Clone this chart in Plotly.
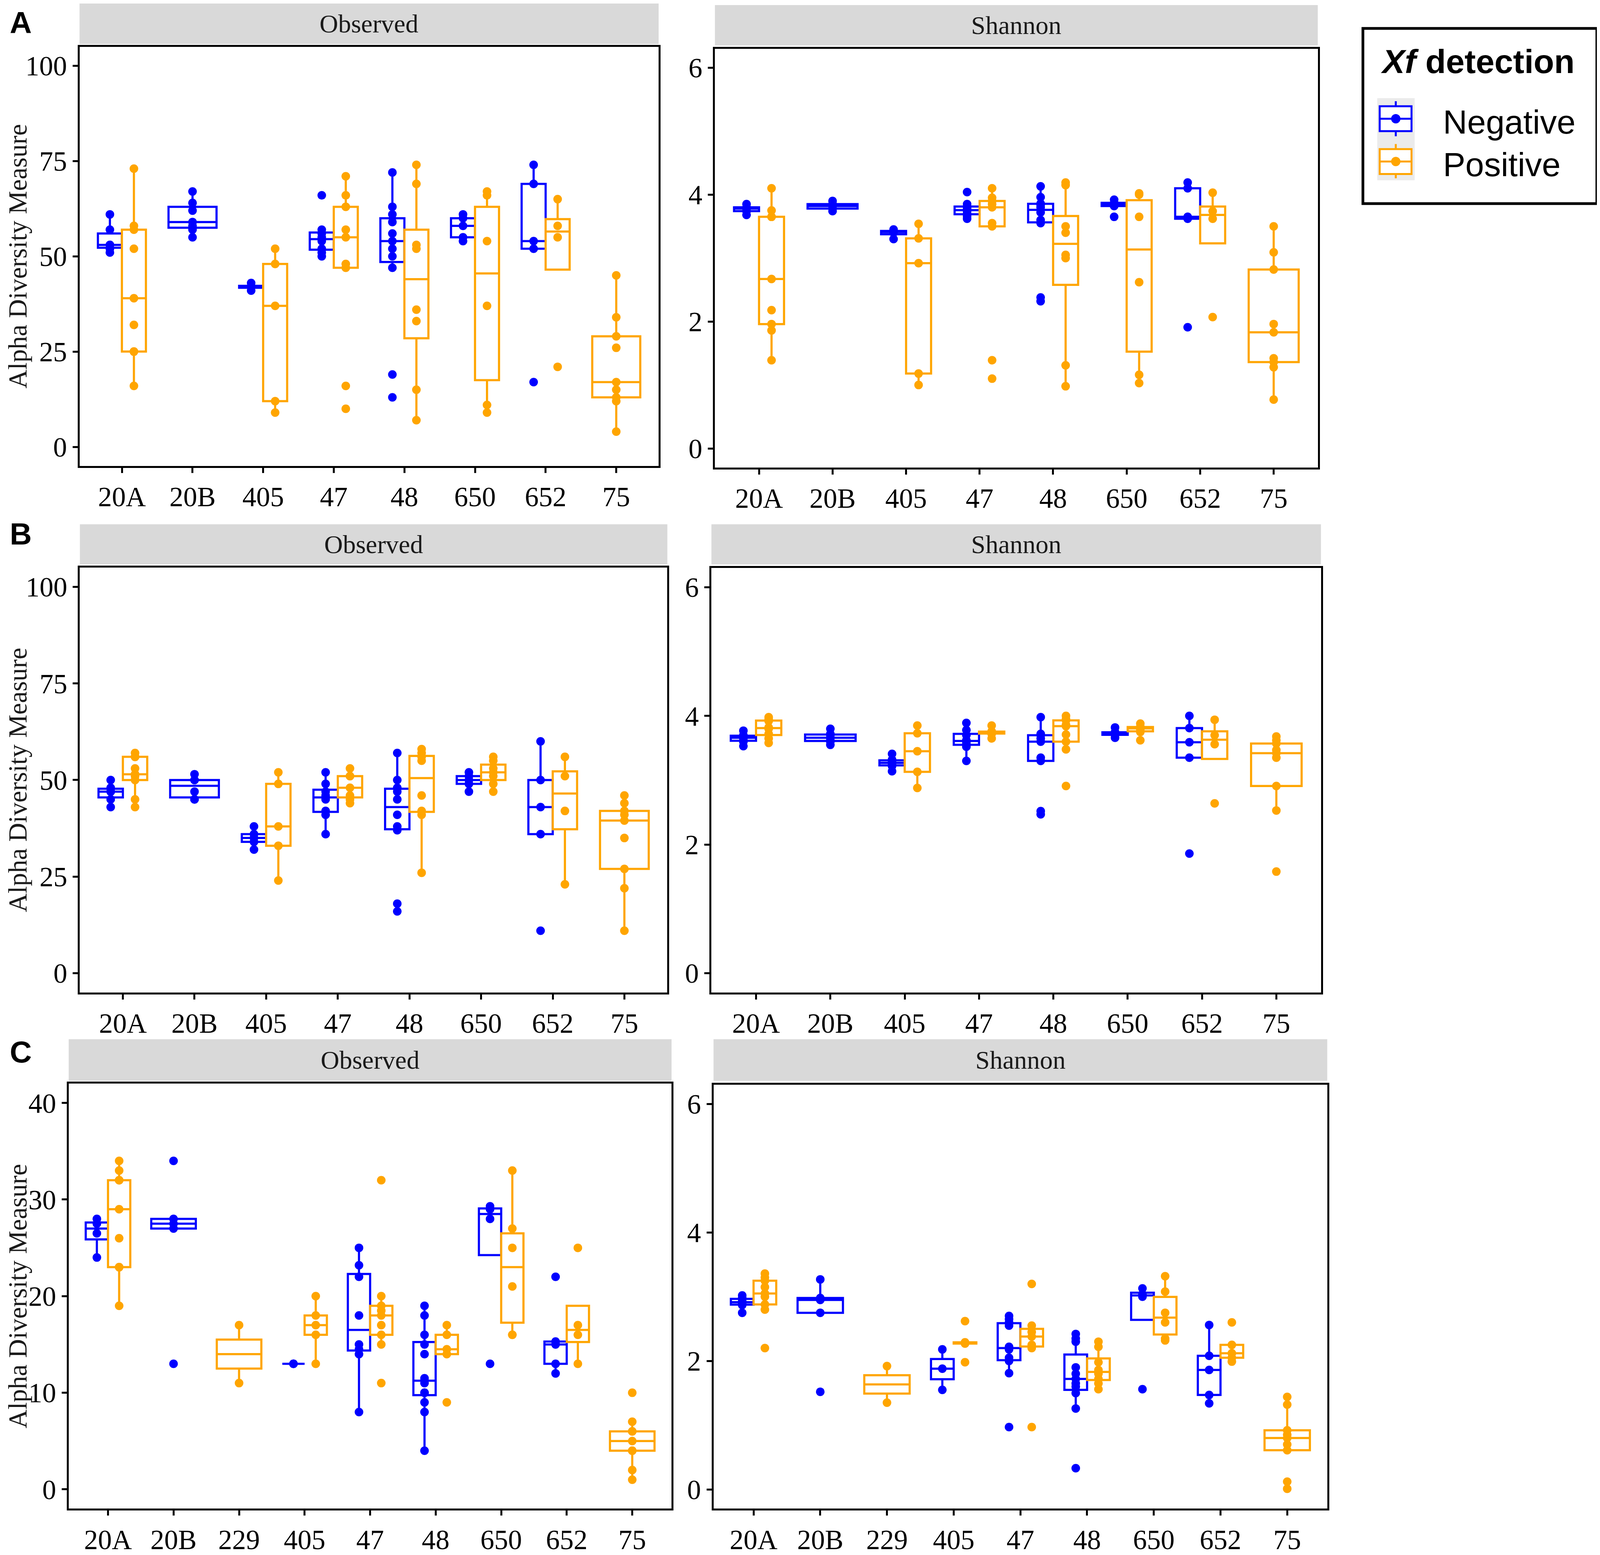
import numpy as np
import plotly.graph_objects as go

# genotypes on the x axis
cats_ab = ["20A", "20B", "405", "47", "48", "650", "652", "75"]
cats_c = ["20A", "20B", "229", "405", "47", "48", "650", "652", "75"]

# panel A - Observed (one list per genotype, [] = no samples)
a_obs_neg = [[51, 52, 53, 53, 57, 61], [55, 57, 58, 59, 62, 64, 67], [41, 42, 42, 43],
             [50, 51, 52, 54, 55, 56, 57, 66], [13, 19, 47, 50, 52, 54, 56, 59, 61, 63, 72],
             [54, 55, 58, 60, 61], [17, 52, 54, 69, 74], []]
a_obs_pos = [[16, 25, 25, 32, 39, 52, 57, 58, 73], [], [9, 12, 37, 48, 52],
             [10, 16, 47, 48, 55, 57, 63, 66, 71], [7, 15, 33, 36, 52, 53, 69, 74],
             [9, 11, 37, 54, 66, 67], [21, 55, 58, 65], [4, 12, 13, 15, 17, 26, 29, 34, 45]]

# panel A - Shannon
a_sha_neg = [[3.68, 3.74, 3.78, 3.8, 3.85], [3.74, 3.78, 3.82, 3.85, 3.9], [3.3, 3.4, 3.42, 3.45],
             [3.62, 3.66, 3.7, 3.74, 3.77, 3.8, 3.85, 4.04],
             [2.32, 2.38, 3.55, 3.6, 3.72, 3.8, 3.84, 3.86, 3.96, 4.13],
             [3.65, 3.82, 3.85, 3.87, 3.92], [1.91, 3.62, 3.65, 4.1, 4.19], []]
a_sha_pos = [[1.39, 1.86, 1.96, 2.18, 2.67, 3.65, 3.65, 3.75, 4.1], [], [1.0, 1.18, 2.92, 3.31, 3.54],
             [1.1, 1.39, 3.5, 3.55, 3.8, 3.85, 3.9, 3.95, 4.1],
             [0.98, 1.31, 3.0, 3.05, 3.4, 3.5, 4.15, 4.19],
             [1.03, 1.16, 2.62, 3.65, 4.0, 4.02], [2.07, 3.62, 3.74, 4.03],
             [0.77, 1.28, 1.36, 1.42, 1.83, 1.96, 2.82, 3.09, 3.5]]

# panel B - Observed
b_obs_neg = [[43, 45, 47, 47, 48, 50], [45, 45, 47, 50, 50, 51.5], [32, 34, 35, 36, 38],
             [36, 41, 42, 45, 46, 47, 49, 52], [16, 18, 37, 38, 41, 45, 47, 48, 50, 57],
             [47, 49, 50, 51, 52], [11, 36, 43, 50, 60], []]
b_obs_pos = [[43, 45, 50, 51, 51.5, 53, 56, 56, 57], [], [24, 33, 38, 49, 52],
             [44, 45, 46, 48, 51, 51, 53], [26, 41, 42, 46, 55, 56, 57, 58],
             [47, 49, 51, 52, 53, 55, 56], [23, 42, 51, 56], [11, 22, 27, 35, 39.5, 41, 42, 44, 46]]

# panel B - Shannon
b_sha_neg = [[3.53, 3.6, 3.65, 3.67, 3.7, 3.77], [3.55, 3.6, 3.62, 3.66, 3.7, 3.72, 3.8],
             [3.14, 3.22, 3.26, 3.28, 3.32, 3.41], [3.3, 3.52, 3.56, 3.6, 3.62, 3.7, 3.78, 3.89],
             [2.47, 2.52, 3.3, 3.35, 3.6, 3.65, 3.7, 3.72, 3.98],
             [3.66, 3.7, 3.72, 3.73, 3.75, 3.82], [1.86, 3.35, 3.59, 3.81, 4.0], []]
b_sha_pos = [[3.58, 3.65, 3.72, 3.8, 3.82, 3.92, 3.95, 3.98], [], [2.88, 3.13, 3.45, 3.73, 3.85],
             [3.65, 3.72, 3.73, 3.74, 3.75, 3.76, 3.85],
             [2.91, 3.48, 3.6, 3.71, 3.84, 3.86, 3.93, 3.95, 4.0],
             [3.62, 3.75, 3.79, 3.82, 3.83, 3.88], [2.64, 3.56, 3.7, 3.94],
             [1.58, 2.53, 2.91, 3.35, 3.42, 3.47, 3.57, 3.62, 3.68]]

# panel C - Observed
c_obs_neg = [[24, 26.5, 27.5, 28], [13, 27, 27.5, 28, 34], [], [13, 13],
             [8, 14, 14.5, 15, 18, 22, 23.2, 25], [4, 8, 9, 10, 10, 11, 11.5, 14, 15, 16, 18, 19],
             [13, 28, 29, 29.3], [12, 13, 15, 15.3, 22], []]
c_obs_pos = [[19, 23, 23, 26, 29, 32, 32, 33, 34], [], [11, 17], [13, 16, 17, 18, 20],
             [11, 15, 16, 17, 18, 18.5, 19, 20, 32], [9, 14, 14.5, 16, 17],
             [16, 16, 21, 25, 27, 33], [13, 16, 17, 25], [1, 2, 4, 4, 5, 6, 6, 7, 10]]

# panel C - Shannon
c_sha_neg = [[2.75, 2.87, 2.9, 2.93, 2.98, 3.02], [1.52, 2.75, 2.95, 2.98, 3.27], [], [1.55, 1.88, 2.18],
             [0.97, 1.81, 2.0, 2.05, 2.18, 2.22, 2.55, 2.6, 2.65, 2.7],
             [0.33, 1.26, 1.5, 1.6, 1.65, 1.72, 1.8, 1.9, 2.3, 2.35, 2.42],
             [1.56, 3.0, 3.04, 3.13], [1.34, 1.47, 1.86, 2.08, 2.56], []]
c_sha_pos = [[2.2, 2.8, 2.88, 3.0, 3.05, 3.15, 3.25, 3.3, 3.36], [], [1.35, 1.92],
             [1.98, 2.27, 2.28, 2.29, 2.62], [0.97, 2.2, 2.25, 2.38, 2.45, 2.55, 3.2],
             [1.56, 1.65, 1.72, 1.8, 1.86, 1.98, 2.22, 2.3],
             [2.32, 2.35, 2.6, 2.75, 3.08, 3.32], [1.99, 2.05, 2.12, 2.25, 2.6],
             [0.01, 0.12, 0.61, 0.7, 0.8, 0.85, 0.92, 1.32, 1.44]]

# the browser viewport is 4096 wide, so the 4562-wide layout is squeezed horizontally
REF_W, REF_H = 4562, 3981
VIEW_W = 4096
SX = VIEW_W / REF_W
PAD = 8  # default body margin of the page
FW, FH = VIEW_W - PAD, REF_H - PAD

BLUE = "#0000FF"
ORANGE = "#FFA500"
SERIF = "Liberation Serif, Times New Roman, serif"
SANS = "Liberation Sans, Arial, sans-serif"


def fx(x):
    # reference pixel x -> paper fraction
    return (x * SX - PAD) / FW


def fy(y):
    return 1 - (y - PAD) / FH


def box_stats(vals):
    # ggplot-style boxplot stats (quantile type 7, whiskers at 1.5 IQR)
    v = np.sort(np.asarray(vals, dtype=float))
    q1, med, q3 = np.quantile(v, [0.25, 0.5, 0.75])
    iqr = q3 - q1
    inl = v[(v >= q1 - 1.5 * iqr - 1e-9) & (v <= q3 + 1.5 * iqr + 1e-9)]
    return q1, med, q3, min(q1, inl.min()), max(q3, inl.max())


# cats, neg, pos, y range, dtick, y title?, frame px (x0, x1, y0, y1), strip px (y0, y1), strip text
panels = [
    (cats_ab, a_obs_neg, a_obs_pos, [-5, 105], 25, True, (214, 1870, 120, 1197), (9, 113), "Observed"),
    (cats_ab, a_sha_neg, a_sha_pos, [-0.3, 6.3], 2, False, (2031, 3755, 125, 1201), (13, 117), "Shannon"),
    (cats_ab, b_obs_neg, b_obs_pos, [-5, 105], 25, True, (215, 1895, 1458, 2550), (1347, 1450), "Observed"),
    (cats_ab, b_sha_neg, b_sha_pos, [-0.3, 6.3], 2, False, (2021, 3764, 1459, 2550), (1347, 1450), "Shannon"),
    (cats_c, c_obs_neg, c_obs_pos, [-2, 42], 10, True, (183, 1907, 2784, 3876), (2670, 2777), "Observed"),
    (cats_c, c_sha_neg, c_sha_pos, [-0.3, 6.3], 2, False, (2027, 3782, 2787, 3876), (2670, 2777), "Shannon"),
]

fig = go.Figure()
shapes = []
annotations = []
layout_axes = {}

for i, (cats, neg, pos, yr, dt, ytitle, frame, strip, stext) in enumerate(panels, start=1):
    sfx = "" if i == 1 else str(i)
    xa, ya = "x" + sfx, "y" + sfx

    for name, vals, other, color in (("Negative", neg, pos, BLUE), ("Positive", pos, neg, ORANGE)):
        dodge = [c for c, v, o in zip(cats, vals, other) if v and o]
        single = [c for c, v, o in zip(cats, vals, other) if v and not o]
        for subset, kw in ((dodge, dict(offsetgroup=name, alignmentgroup="dodge")),
                           (single, dict(width=0.68))):
            if not subset:
                continue
            groups = [vals[cats.index(c)] for c in subset]
            st = [box_stats(g) for g in groups]
            fig.add_trace(go.Box(
                x=subset, q1=[s[0] for s in st], median=[s[1] for s in st], q3=[s[2] for s in st],
                lowerfence=[s[3] for s in st], upperfence=[s[4] for s in st],
                orientation="v", boxpoints=False, whiskerwidth=0,
                line=dict(color=color, width=5.5), fillcolor="white",
                xaxis=xa, yaxis=ya, hoverinfo="skip", showlegend=False, **kw))
            fig.add_trace(go.Box(
                x=[c for c, g in zip(subset, groups) for _ in g],
                y=[y for g in groups for y in g],
                orientation="v", boxpoints="all", jitter=0, pointpos=0, whiskerwidth=0,
                line=dict(color="rgba(0,0,0,0)", width=0), fillcolor="rgba(0,0,0,0)",
                marker=dict(color=color, size=22, opacity=1),
                xaxis=xa, yaxis=ya, hoverinfo="skip", showlegend=False, **kw))

    x0, x1, y0, y1 = frame
    common = dict(showline=True, mirror=True, linecolor="black", linewidth=5,
                  ticks="outside", ticklen=13, tickwidth=5, tickcolor="black",
                  tickfont=dict(family=SERIF, size=71, color="black"),
                  showgrid=False, zeroline=False)
    layout_axes["xaxis" + sfx] = dict(
        domain=[fx(x0), fx(x1)], anchor=ya, type="category",
        categoryorder="array", categoryarray=cats,
        range=[-0.6, len(cats) - 0.4], **common)
    yax = dict(domain=[fy(y1), fy(y0)], anchor=xa, range=yr, dtick=dt, tick0=0, **common)
    if ytitle:
        yax["title"] = dict(text="Alpha Diversity Measure", standoff=10,
                            font=dict(family=SERIF, size=67, color="#1a1a1a"))
    layout_axes["yaxis" + sfx] = yax

    # facet strip
    sy0, sy1 = strip
    shapes.append(dict(type="rect", xref="paper", yref="paper", x0=fx(x0), x1=fx(x1),
                       y0=fy(sy1), y1=fy(sy0), fillcolor="#D9D9D9", line=dict(width=0), layer="below"))
    annotations.append(dict(text=stext, xref="paper", yref="paper", x=fx((x0 + x1) / 2),
                            y=fy((sy0 + sy1) / 2), xanchor="center", yanchor="middle", showarrow=False,
                            font=dict(family=SERIF, size=66, color="#1a1a1a")))

# panel letters
for letter, (lx, ly) in (("A", (12, 58)), ("B", (12, 1372)), ("C", (12, 2702))):
    annotations.append(dict(text="<b>%s</b>" % letter, xref="paper", yref="paper", x=fx(lx), y=fy(ly),
                            xanchor="left", yanchor="middle", showarrow=False,
                            font=dict(family=SANS, size=78, color="black")))

# legend drawn as a key box
shapes.append(dict(type="rect", xref="paper", yref="paper", x0=fx(3884), x1=fx(4553), y0=fy(523), y1=fy(73),
                   line=dict(color="black", width=7), fillcolor="rgba(0,0,0,0)"))
shapes.append(dict(type="rect", xref="paper", yref="paper", x0=fx(3925), x1=fx(4032), y0=fy(463), y1=fy(252),
                   line=dict(width=0), fillcolor="#EBEBEB"))
cx = 3978
r = 12 / SX  # keep the key dot round
for color, (wt, bt, md, bb, wb) in ((BLUE, (260, 273, 305, 337, 350)), (ORANGE, (370, 383, 415, 447, 458))):
    ln = dict(color=color, width=5)
    shapes.append(dict(type="rect", xref="paper", yref="paper", x0=fx(3932), x1=fx(4023),
                       y0=fy(bb), y1=fy(bt), line=ln, fillcolor="white"))
    shapes.append(dict(type="line", xref="paper", yref="paper", x0=fx(3932), x1=fx(4023),
                       y0=fy(md), y1=fy(md), line=ln))
    shapes.append(dict(type="line", xref="paper", yref="paper", x0=fx(cx), x1=fx(cx),
                       y0=fy(wt), y1=fy(bt), line=ln))
    shapes.append(dict(type="line", xref="paper", yref="paper", x0=fx(cx), x1=fx(cx),
                       y0=fy(bb), y1=fy(wb), line=ln))
    shapes.append(dict(type="circle", xref="paper", yref="paper", x0=fx(cx - r), x1=fx(cx + r),
                       y0=fy(md + 12), y1=fy(md - 12), line=dict(width=0), fillcolor=color))

annotations.append(dict(text="<b><i>Xf</i> detection</b>", xref="paper", yref="paper", x=fx(3933), y=fy(158),
                        xanchor="left", yanchor="middle", showarrow=False,
                        font=dict(family=SANS, size=86, color="black")))
for lab, ly in (("Negative", 313), ("Positive", 422)):
    annotations.append(dict(text=lab, xref="paper", yref="paper", x=fx(4111), y=fy(ly),
                            xanchor="left", yanchor="middle", showarrow=False,
                            font=dict(family=SANS, size=86, color="black")))

fig.update_layout(
    width=FW, height=FH, autosize=False,
    margin=dict(l=0, r=0, t=0, b=0),
    paper_bgcolor="white", plot_bgcolor="white",
    boxmode="group", boxgap=0.32, boxgroupgap=0,
    showlegend=False,
    shapes=shapes, annotations=annotations,
    **layout_axes,
)

fig.write_html("out.html")
